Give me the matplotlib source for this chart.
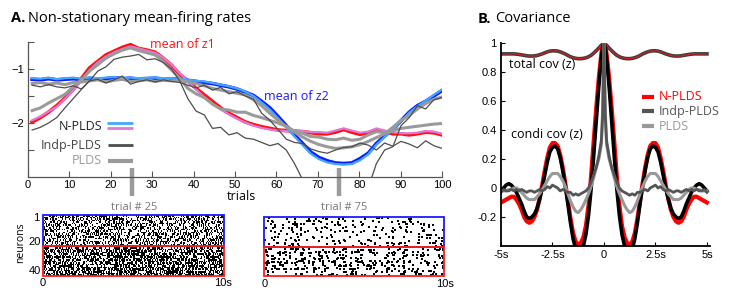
import numpy as np
import matplotlib
matplotlib.use('Agg')
import matplotlib.pyplot as plt
from matplotlib.lines import Line2D
from matplotlib.patches import Rectangle

# ---------------- data: panel A (mean firing rates over trials) ----------------
trials = np.linspace(1, 100, 51)
z1_true = [-1.98,-1.90,-1.80,-1.68,-1.54,-1.38,-1.18,-0.98,-0.86,-0.74,-0.67,-0.60,-0.55,-0.62,-0.65,-0.69,-0.80,-0.93,-1.10,-1.22,
           -1.36,-1.48,-1.60,-1.72,-1.82,-1.90,-1.98,-2.03,-2.07,-2.10,-2.13,-2.14,-2.15,-2.16,-2.18,-2.20,-2.20,-2.17,-2.12,-2.17,
           -2.21,-2.18,-2.13,-2.16,-2.20,-2.20,-2.22,-2.20,-2.17,-2.18,-2.22]
z1_npl = [-1.95,-1.88,-1.79,-1.70,-1.55,-1.40,-1.22,-1.02,-0.88,-0.77,-0.69,-0.63,-0.58,-0.62,-0.66,-0.70,-0.79,-0.92,-1.08,-1.22,
          -1.38,-1.52,-1.64,-1.75,-1.84,-1.92,-1.99,-2.05,-2.09,-2.12,-2.14,-2.15,-2.14,-2.15,-2.17,-2.17,-2.18,-2.14,-2.10,-2.14,
          -2.18,-2.16,-2.10,-2.14,-2.17,-2.19,-2.19,-2.18,-2.15,-2.16,-2.20]
z2_true = [-1.19,-1.20,-1.18,-1.20,-1.19,-1.18,-1.20,-1.17,-1.19,-1.18,-1.16,-1.18,-1.17,-1.19,-1.18,-1.17,-1.19,-1.18,-1.19,-1.21,
           -1.23,-1.25,-1.27,-1.30,-1.33,-1.37,-1.43,-1.49,-1.60,-1.72,-1.88,-2.05,-2.22,-2.38,-2.54,-2.64,-2.70,-2.74,-2.75,-2.74,
           -2.66,-2.56,-2.38,-2.24,-2.12,-1.96,-1.80,-1.68,-1.60,-1.50,-1.40]
z2_npl = [-1.17,-1.18,-1.16,-1.19,-1.17,-1.16,-1.18,-1.16,-1.17,-1.16,-1.15,-1.17,-1.16,-1.17,-1.16,-1.16,-1.17,-1.17,-1.18,-1.20,
          -1.22,-1.23,-1.26,-1.29,-1.32,-1.36,-1.42,-1.50,-1.62,-1.75,-1.91,-2.08,-2.25,-2.41,-2.57,-2.67,-2.73,-2.76,-2.77,-2.76,
          -2.69,-2.58,-2.40,-2.26,-2.13,-1.97,-1.81,-1.69,-1.59,-1.48,-1.38]
plds_1 = [-1.77,-1.72,-1.63,-1.55,-1.47,-1.33,-1.20,-1.04,-0.92,-0.80,-0.72,-0.65,-0.61,-0.66,-0.70,-0.74,-0.86,-1.02,-1.17,-1.36,
          -1.46,-1.53,-1.65,-1.74,-1.76,-1.80,-1.80,-1.86,-1.90,-1.95,-2.00,-2.06,-2.15,-2.19,-2.25,-2.26,-2.30,-2.31,-2.28,-2.32,
          -2.30,-2.22,-2.16,-2.18,-2.14,-2.10,-2.08,-2.06,-2.04,-2.02,-2.01]
plds_2 = [-1.27,-1.25,-1.28,-1.26,-1.29,-1.25,-1.24,-1.22,-1.20,-1.24,-1.21,-1.19,-1.23,-1.22,-1.20,-1.23,-1.21,-1.22,-1.21,-1.24,
          -1.27,-1.31,-1.36,-1.39,-1.42,-1.45,-1.48,-1.57,-1.68,-1.82,-1.95,-2.07,-2.17,-2.26,-2.34,-2.40,-2.44,-2.47,-2.46,-2.44,
          -2.40,-2.34,-2.27,-2.20,-2.08,-1.95,-1.86,-1.74,-1.64,-1.56,-1.52]
indp_a = [-2.13,-2.08,-2.00,-1.90,-1.72,-1.55,-1.38,-1.22,-1.04,-0.96,-0.82,-0.78,-0.76,-0.73,-0.83,-0.81,-0.88,-1.00,-1.22,-1.55,
          -1.78,-1.85,-2.10,-2.08,-2.22,-2.18,-2.28,-2.30,-2.36,-2.42,-2.38,-2.50,-2.75,-3.05,-3.40,-3.50,-3.50,-3.50,-3.50,-3.50,
          -3.50,-3.20,-2.75,-2.50,-2.44,-2.05,-1.90,-1.68,-1.74,-1.57,-1.53]
indp_b = [-1.30,-1.33,-1.29,-1.33,-1.35,-1.31,-1.37,-1.22,-1.19,-1.26,-1.20,-1.13,-1.28,-1.23,-1.20,-1.24,-1.20,-1.23,-1.25,-1.30,
          -1.35,-1.30,-1.39,-1.34,-1.46,-1.42,-1.50,-1.56,-1.82,-1.95,-2.12,-2.30,-2.36,-2.38,-2.48,-2.53,-2.56,-2.50,-2.45,-2.44,
          -2.37,-2.41,-2.50,-2.37,-2.43,-2.34,-2.39,-2.46,-2.33,-2.42,-2.47]
xtick_vals = list(range(0, 101, 10))
ytick_vals = [-2.5, -2, -1.5, -1, -0.5]
ytick_labels = ['', '\u22122', '', '\u22121', '']
marked_trials = [25, 75]

# raster spike densities (fraction of bins with a spike)
dens_t25 = [0.42] * 20 + [0.58] * 20
dens_t75 = [0.08] * 20 + [0.13] * 20

# ---------------- data: panel B (covariance, symmetric in lag) ----------------
lags_half = [0.0, 0.0625] + [0.125 * k for k in range(1, 41)]
cov_total = [1.0, 0.99, 0.985, 0.965, 0.947, 0.93, 0.915, 0.905, 0.898, 0.894,
             0.892, 0.892, 0.894, 0.899, 0.905, 0.914, 0.924, 0.932,
             0.939, 0.944, 0.946, 0.946, 0.944, 0.939, 0.932, 0.925,
             0.919, 0.914, 0.911, 0.910, 0.910, 0.912, 0.915, 0.918,
             0.921, 0.923, 0.925, 0.925, 0.925, 0.925, 0.925, 0.925]
cov_true = [1.0, 0.97, 0.90, 0.70, 0.46, 0.22, -0.01, -0.19, -0.32, -0.40,
            -0.43, -0.44, -0.42, -0.35, -0.24, -0.11, 0.01, 0.12,
            0.21, 0.27, 0.29, 0.28, 0.25, 0.18, 0.09, 0.00,
            -0.08, -0.14, -0.18, -0.20, -0.21, -0.20, -0.16, -0.11,
            -0.07, -0.03, 0.00, 0.02, 0.03, 0.02, 0.00, -0.02]
cov_npl = [1.0, 0.98, 0.93, 0.76, 0.55, 0.32, 0.08, -0.12, -0.26, -0.34,
           -0.38, -0.39, -0.37, -0.31, -0.21, -0.09, 0.03, 0.14,
           0.23, 0.29, 0.31, 0.31, 0.28, 0.21, 0.12, 0.02,
           -0.07, -0.15, -0.20, -0.23, -0.24, -0.23, -0.20, -0.15,
           -0.11, -0.08, -0.06, -0.06, -0.07, -0.08, -0.09, -0.10]
cov_plds = [1.0, 0.55, 0.30, 0.20, 0.14, 0.07, 0.01, -0.04, -0.08, -0.12,
            -0.15, -0.17, -0.16, -0.13, -0.09, -0.04, 0.01, 0.05,
            0.08, 0.10, 0.10, 0.10, 0.08, 0.05, 0.02, -0.01,
            -0.04, -0.06, -0.08, -0.08, -0.08, -0.07, -0.05, -0.03,
            -0.01, 0.00, 0.00, -0.01, -0.01, -0.02, -0.02, -0.02]
cov_indp = [1.0, 0.50, 0.33, 0.22, 0.14, 0.09, 0.04, 0.00, -0.02, -0.03,
            -0.04, -0.05, -0.04, -0.05, -0.03, -0.03, -0.02, -0.01,
            -0.02, 0.00, 0.01, 0.02, 0.00, 0.01, -0.01, -0.02,
            -0.01, -0.02, -0.03, -0.02, -0.02, -0.03, -0.02, -0.01,
            -0.02, -0.01, -0.02, -0.01, -0.02, -0.02, -0.01, -0.03]
b_xticks = [-5, -2.5, 0, 2.5, 5]
b_xlabels = ['-5s', '-2.5s', '0', '2.5s', '5s']
b_yticks = [-0.2, 0, 0.2, 0.4, 0.6, 0.8, 1]
b_ylabels = ['-0.2', '0', '0.2', '0.4', '0.6', '0.8', '1']


def sym(v):
    v = np.asarray(v, float)
    return np.concatenate([v[:0:-1], v])


lags = sym(lags_half) * np.concatenate([-np.ones(len(lags_half) - 1), np.ones(len(lags_half))])

# ---------------- figure ----------------
W, H = 747, 291
fig = plt.figure(figsize=(W / 100, H / 100), dpi=100)
TXT = ['Open Sans', 'DejaVu Sans']
TCK = ['Liberation Sans', 'DejaVu Sans']


def rect(x0, y0, x1, y1):
    return [x0 / W, 1 - y1 / H, (x1 - x0) / W, (y1 - y0) / H]


def ftxt(x, y, s, **kw):
    kw.setdefault('family', TXT)
    kw.setdefault('va', 'center')
    fig.text(x / W, 1 - y / H, s, **kw)


def fline(x0, x1, y, **kw):
    fig.add_artist(Line2D([x0 / W, x1 / W], [1 - y / H, 1 - y / H],
                          transform=fig.transFigure, solid_capstyle='butt', **kw))


# ---------- Panel A ----------
axA = fig.add_axes(rect(28, 42, 442, 177))
axA.set_xlim(0, 100)
axA.set_ylim(-3, -0.5)
RED, PINK, BLUE, LBLUE = '#ff1010', '#e078d8', '#0a1eff', '#45a6ff'
GRAY, DGRAY = '#9a9a9a', '#4d4d4d'
axA.plot(trials, z1_true, color=RED, lw=2.6)
axA.plot(trials, z2_true, color=BLUE, lw=2.6)
axA.plot(trials, z1_npl, color=PINK, lw=1.6)
axA.plot(trials, z2_npl, color=LBLUE, lw=1.6)
axA.plot(trials, plds_1, color=GRAY, lw=2.2)
axA.plot(trials, plds_2, color=GRAY, lw=2.2)
axA.plot(trials, indp_a, color=DGRAY, lw=0.9)
axA.plot(trials, indp_b, color=DGRAY, lw=0.9)
for t in marked_trials:
    axA.plot([t, t], [-2.83, -3.35], color=GRAY, lw=3.2, clip_on=False, solid_capstyle='butt')
for s in ['top', 'right']:
    axA.spines[s].set_visible(False)
for s in ['left', 'bottom']:
    axA.spines[s].set_color('#555555')
    axA.spines[s].set_linewidth(0.9)
axA.set_xticks(xtick_vals)
axA.set_xticklabels([str(v) for v in xtick_vals], family=TCK)
axA.set_yticks(ytick_vals)
axA.set_yticklabels(ytick_labels, family=TCK)
axA.tick_params(direction='in', length=4, width=0.8, labelsize=8, pad=2.5, color='#555555')

ftxt(11, 18, 'A.', fontsize=10.5, fontweight='bold')
ftxt(28, 18, 'Non-stationary mean-firing rates', fontsize=10.5)
ftxt(150, 45, 'mean of z1', color='#ff1010', fontsize=9)
ftxt(264, 97, 'mean of z2', color='#1a1aff', fontsize=9)
ftxt(241, 196, 'trials', fontsize=9, ha='center')

ftxt(102, 126, 'N-PLDS', ha='right', fontsize=9, color='#222222')
fline(107, 133, 122.5, color=LBLUE, lw=2)
fline(107, 133, 128, color=PINK, lw=2)
ftxt(102, 145, 'Indp-PLDS', ha='right', fontsize=9, color='#444444')
fline(108, 133, 145, color=DGRAY, lw=2)
ftxt(102, 161, 'PLDS', ha='right', fontsize=9, color=GRAY)
fline(108, 133, 161, color=GRAY, lw=3)

ftxt(134.5, 207, 'trial # 25', ha='center', fontsize=8, color='#777777')
ftxt(344.5, 208, 'trial # 75', ha='center', fontsize=8, color='#777777')


# ---------- rasters ----------
def texture(dens, ncols, salt):
    i = np.arange(len(dens))[:, None]
    j = np.arange(ncols)[None, :]
    h = np.modf(np.abs(np.sin(i * 12.9898 + j * 78.233 + salt) * 43758.5453))[0]
    return (h < np.asarray(dens)[:, None]).astype(float)


def raster_axes(box):
    ax = fig.add_axes(rect(*box))
    ax.set_xlim(0, 10)
    ax.set_ylim(40.5, 0.5)
    ax.add_patch(Rectangle((0, 0.5), 10, 20, fill=False, ec='#1a1aff', lw=1.3, clip_on=False, zorder=5))
    ax.add_patch(Rectangle((0, 20.5), 10, 20, fill=False, ec='#ff1a1a', lw=1.3, clip_on=False, zorder=5))
    ax.set_axis_off()
    return ax


axR1 = raster_axes((43, 215, 224, 276))
axR1.imshow(texture(dens_t25, 180, 0.37), aspect='auto', cmap='gray_r', vmin=0, vmax=1,
            interpolation='nearest', extent=[0, 10, 40.5, 0.5])
axR2 = raster_axes((264, 217, 444, 276))
m75 = texture(dens_t75, 150, 1.91)
rows, cols = np.nonzero(m75)
axR2.scatter((cols + 0.5) * 10.0 / m75.shape[1], rows + 1, s=2.2, marker='s', c='black',
             linewidths=0, zorder=2)

ftxt(39, 218, '1', ha='right', fontsize=8, family=TCK)
ftxt(41, 242, '20', ha='right', fontsize=8, family=TCK)
ftxt(41, 271, '40', ha='right', fontsize=8, family=TCK)
ftxt(21, 243, 'neurons', ha='center', fontsize=7.5, rotation=90)
ftxt(43, 283, '0', ha='center', fontsize=8, family=TCK)
ftxt(223, 283, '10s', ha='center', fontsize=8, family=TCK)
ftxt(265, 284, '0', ha='center', fontsize=8, family=TCK)
ftxt(445, 284, '10s', ha='center', fontsize=8, family=TCK)

# ---------- Panel B ----------
axB = fig.add_axes(rect(501, 43, 710, 246))
axB.set_xlim(-5, 5.15)
axB.set_ylim(-0.4, 1.0)
axB.plot(lags, sym(cov_total), color='#3a3a3a', lw=2.6)
axB.plot(lags, sym(cov_total), color='#cc2222', lw=0.9)
axB.plot(lags, sym(cov_npl), color='#ff0000', lw=3.0)
axB.plot(lags, sym(cov_true), color='#000000', lw=2.6)
axB.plot(lags, sym(cov_plds), color='#999999', lw=2.2)
axB.plot(lags, sym(cov_indp), color='#555555', lw=2.0)
for s in ['top', 'right']:
    axB.spines[s].set_visible(False)
for s in ['left', 'bottom']:
    axB.spines[s].set_linewidth(1.3)
axB.set_xticks(b_xticks)
axB.set_xticklabels(b_xlabels, family=TCK)
axB.set_yticks(b_yticks)
axB.set_yticklabels(b_ylabels, family=TCK)
axB.tick_params(direction='in', length=3, width=0.8, labelsize=8, pad=3)

ftxt(478, 19, 'B.', fontsize=10.5, fontweight='bold')
ftxt(495, 19, 'Covariance', fontsize=10.5)
ftxt(509, 65, 'total cov (z)', fontsize=9)
ftxt(511, 135, 'condi cov (z)', fontsize=9)
fline(642, 654, 97, color='#ff0000', lw=3)
ftxt(659, 97, 'N-PLDS', fontsize=9, color='#ff0000')
fline(642, 654, 111, color='#555555', lw=3)
ftxt(659, 111, 'Indp-PLDS', fontsize=9, color='#555555')
fline(642, 654, 126, color='#999999', lw=3)
ftxt(659, 126, 'PLDS', fontsize=9, color='#999999')

fig.savefig('out.png', dpi=100)
